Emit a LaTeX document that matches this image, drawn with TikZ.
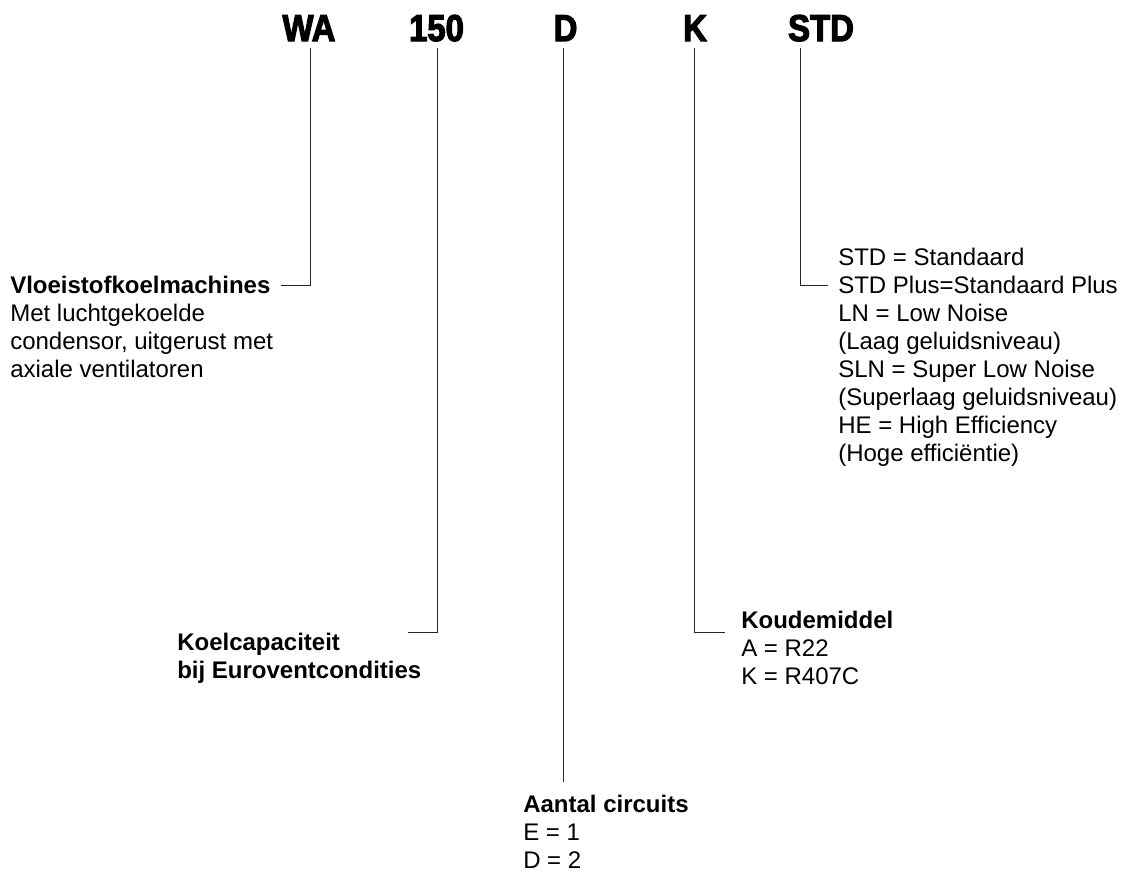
\documentclass[tikz,border=0pt]{standalone}
\usepackage{graphicx}
\usepackage{fontspec}
\setmainfont{Liberation Sans}
\newfontfamily\titlefont{Liberation Sans}[FakeBold=3.5]
\newcommand{\codetxt}[1]{\scalebox{0.88}[1]{#1}}
\begin{document}
\begin{tikzpicture}[x=0.75pt,y=-0.75pt,
  conn/.style={draw=black!85,line width=0.75pt},
  ttl/.style={anchor=base,inner sep=0pt,font=\titlefont\bfseries\fontsize{28pt}{28pt}\selectfont},
  lab/.style={anchor=north west,inner sep=0pt,align=left,font=\fontsize{18pt}{21pt}\selectfont}]
\useasboundingbox (0,0) rectangle (1122,872);
% title codes
\node[ttl] (tWA)  at (309,41)   {\codetxt{WA}};
\node[ttl] (t150) at (436.5,41) {\codetxt{150}};
\node[ttl] (tD)   at (565.5,41) {\codetxt{D}};
\node[ttl] (tK)   at (695,41)   {\codetxt{K}};
\node[ttl] (tSTD) at (821,41)   {\codetxt{STD}};
% labels
\node[lab] (lWA) at (10,275.8) {\textbf{Vloeistofkoelmachines}\\Met luchtgekoelde\\condensor, uitgerust met\\axiale ventilatoren};
\node[lab] (l150) at (177,632.8) {\textbf{Koelcapaciteit}\\\textbf{bij Euroventcondities}};
\node[lab] (lD) at (523,794.8) {\textbf{Aantal circuits}\\E = 1\\D = 2};
\node[lab] (lK) at (741,610.8) {\textbf{Koudemiddel}\\A = R22\\K = R407C};
\node[lab] (lSTD) at (838,247.8) {STD = Standaard\\STD Plus=Standaard Plus\\LN = Low Noise\\(Laag geluidsniveau)\\SLN = Super Low Noise\\(Superlaag geluidsniveau)\\HE = High Efficiency\\(Hoge efficiëntie)};
% connector points
\coordinate (aWA) at (310,48);  \coordinate (bWA) at (281,285);
\coordinate (a150) at (437,48); \coordinate (b150) at (408,632);
\coordinate (aD) at (563,48);   \coordinate (bD) at (563,782);
\coordinate (aK) at (694,48);   \coordinate (bK) at (725,632);
\coordinate (aSTD) at (800,48); \coordinate (bSTD) at (828,285);
\draw[conn] (aWA) |- (bWA);
\draw[conn] (a150) |- (b150);
\draw[conn] (aD) -- (bD);
\draw[conn] (aK) |- (bK);
\draw[conn] (aSTD) |- (bSTD);
\end{tikzpicture}
\end{document}
